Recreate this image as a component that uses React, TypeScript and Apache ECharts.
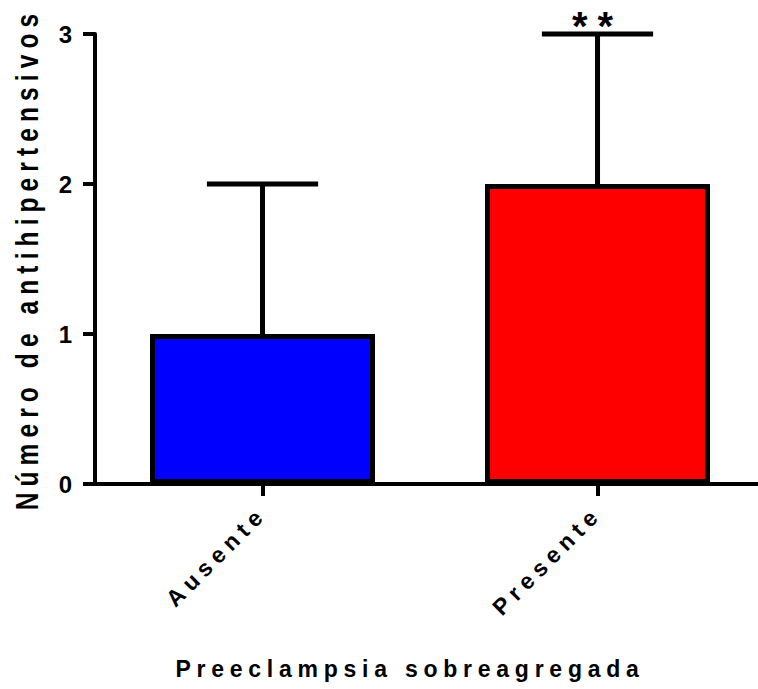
import React, { useEffect, useRef } from 'react';
import * as echarts from 'echarts';

// Groups and their summary values (mean with upper SD)
const categories = ['Ausente', 'Presente'];
const means = [1, 2];
const sdUpper = [1, 1];
const significance = ['', '**'];
const barColors = ['#0000FF', '#FF0000'];

const yMin = 0;
const yMax = 3;
const yStep = 1;

const xTitle = 'Preeclampsia sobreagregada';
const yTitle = 'Número de antihipertensivos';

const FONT = '"Liberation Sans", Arial, Helvetica, sans-serif';

// Group positions on a numeric x scale; the axis runs past the last group to the right edge
const positions = categories.map((_, i) => i);
const xMin = -0.5;
const xMax = 1.479;

export default function App() {
  const ref = useRef<HTMLDivElement>(null);

  useEffect(() => {
    document.body.style.margin = '0';
    const chart = echarts.init(ref.current!, null, { renderer: 'svg' });

    const barData = means.map((v, i) => ({
      value: [positions[i], v],
      itemStyle: { color: barColors[i] },
    }));
    const errorData = means.map((m, i) => [positions[i], m, m + sdUpper[i]]);

    chart.setOption({
      animation: false,
      grid: { left: 95, top: 34, right: 0, height: 450 },
      xAxis: {
        type: 'value',
        min: xMin,
        max: xMax,
        splitLine: { show: false },
        axisLine: { show: true, onZero: true, lineStyle: { color: '#000', width: 4 } },
        axisTick: {
          show: true,
          customValues: positions,
          length: 12,
          lineStyle: { color: '#000', width: 4 },
        },
        axisLabel: {
          customValues: positions,
          formatter: (v: number) => categories[Math.round(v)] ?? '',
          rotate: 45,
          margin: 26,
          fontSize: 23,
          fontWeight: 'bold',
          color: '#000',
          fontFamily: FONT,
        },
      },
      yAxis: {
        type: 'value',
        min: yMin,
        max: yMax,
        interval: yStep,
        splitLine: { show: false },
        axisLine: { show: true, onZero: false, lineStyle: { color: '#000', width: 4 } },
        axisTick: { show: true, length: 12, lineStyle: { color: '#000', width: 4 } },
        axisLabel: {
          margin: 17,
          fontSize: 24,
          fontWeight: 'bold',
          color: '#000',
          fontFamily: FONT,
        },
      },
      series: [
        {
          type: 'bar',
          data: barData,
          barWidth: 225,
          itemStyle: { borderColor: '#000', borderWidth: 5 },
          z: 2,
        },
        {
          type: 'custom',
          data: errorData,
          z: 3,
          renderItem: (params: any, api: any) => {
            const x = api.value(0);
            const base = api.coord([x, api.value(1)]);
            const top = api.coord([x, api.value(2)]);
            const half = api.size([1, 0])[0] * 0.166;
            const stroke = { stroke: '#000', lineWidth: 5 };
            const children: any[] = [
              { type: 'line', shape: { x1: base[0], y1: base[1], x2: top[0], y2: top[1] }, style: stroke },
              { type: 'line', shape: { x1: top[0] - half, y1: top[1], x2: top[0] + half, y2: top[1] }, style: stroke },
            ];
            const sig = significance[params.dataIndex];
            if (sig) {
              children.push({
                type: 'text',
                style: {
                  text: sig,
                  x: top[0],
                  y: top[1] - 8,
                  align: 'center',
                  verticalAlign: 'middle',
                  font: `bold 40px ${FONT}`,
                  fill: '#000',
                },
              });
            }
            return { type: 'group', children };
          },
        },
      ],
      graphic: [
        {
          type: 'text',
          x: 410,
          y: 669,
          style: {
            text: xTitle,
            align: 'center',
            verticalAlign: 'middle',
            font: `bold 23px ${FONT}`,
            fill: '#000',
          },
        },
        {
          type: 'text',
          x: 27,
          y: 259,
          rotation: Math.PI / 2,
          scaleY: 1.28,
          scaleX: 1.02,
          style: {
            text: yTitle,
            align: 'center',
            verticalAlign: 'middle',
            font: `bold 24px ${FONT}`,
            fill: '#000',
          },
        },
      ],
    });

    return () => chart.dispose();
  }, []);

  return (
    <>
      <style>{`.spaced-chart text { letter-spacing: 0.25em; }`}</style>
      <div className="spaced-chart" ref={ref} style={{ width: 758, height: 689 }} />
    </>
  );
}
